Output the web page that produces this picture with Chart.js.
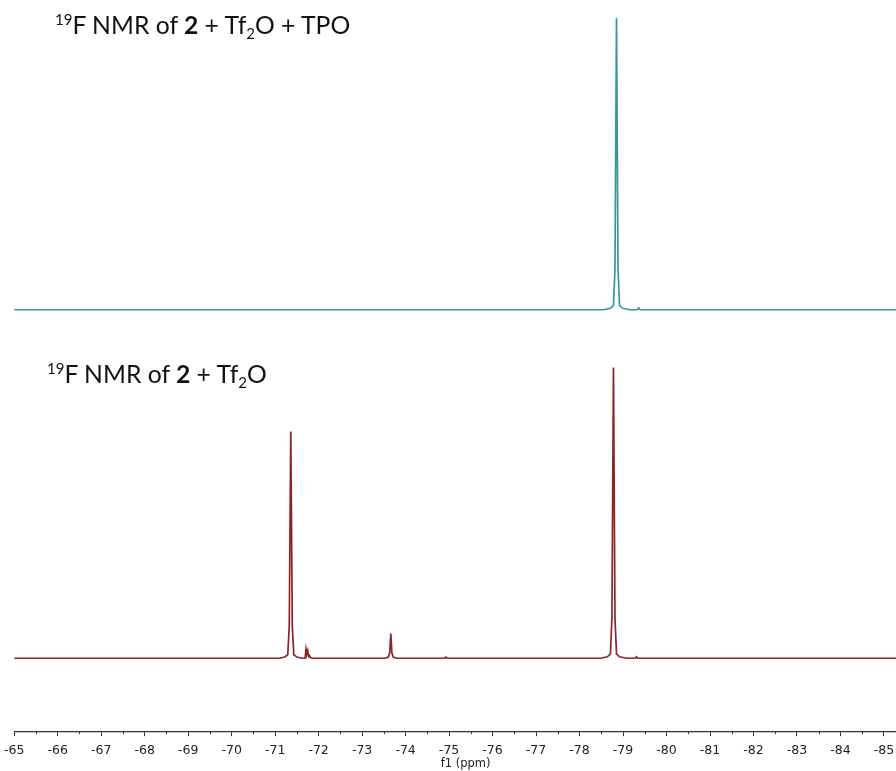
<!DOCTYPE html>
<html>
<head>
<meta charset="utf-8">
<script src="https://cdn.jsdelivr.net/npm/chart.js@4.4.1/dist/chart.umd.min.js"></script>
<style>
  html, body { margin: 0; padding: 0; background: #fff; overflow: hidden; }
  #wrap { position: relative; width: 896px; height: 771px; overflow: hidden; }
  #wrap canvas { position: absolute; left: -3px; top: 0; }
  .lbl { position: absolute; font-family: Lato, "Open Sans", sans-serif; font-size: 24.7px; color: #111; white-space: nowrap; }
  .lbl sup { font-size: 15px; vertical-align: 9px; line-height: 0; }
  .lbl sub { font-size: 15px; vertical-align: -5px; line-height: 0; }
</style>
</head>
<body>
<div id="wrap">
  <canvas id="grafico" width="920" height="771"></canvas>
  <div class="lbl" id="lblTop" style="left:55px; top:10px;"><sup>19</sup>F NMR of <b>2</b> + Tf<sub>2</sub>O + TPO</div>
  <div class="lbl" id="lblBot" style="left:47px; top:359px;"><sup>19</sup>F NMR of <b>2</b> + Tf<sub>2</sub>O</div>
</div>
<script>
// eje de desplazamiento quimico (ppm)
const ppmTicks = [-65, -66, -67, -68, -69, -70, -71, -72, -73, -74, -75, -76, -77, -78, -79, -80, -81, -82, -83, -84, -85];

// espectro de arriba: 2 + Tf2O + TPO
const topPpm = [-65, -78.55, -78.71, -78.78, -78.815, -78.85, -78.885, -78.92, -78.99, -79.15,
  -79.33, -79.36, -79.39, -85.76];
const topInt = [0, 0, 0.5, 1.5, 14, 100, 14, 1.5, 0.5, 0,
  0, 0.6, 0, 0];

// espectro de abajo: 2 + Tf2O
const botPpm = [-65, -71.1, -71.22, -71.29, -71.325, -71.36, -71.395, -71.43, -71.5, -71.62,
  -71.69, -71.71, -71.73, -71.75, -71.77, -71.79, -71.81, -71.86,
  -73.52, -73.6, -73.635, -73.66, -73.685, -73.72, -73.8,
  -74.9, -74.93, -74.96,
  -78.48, -78.64, -78.71, -78.745, -78.78, -78.815, -78.85, -78.92, -79.08,
  -79.28, -79.31, -79.34, -85.76];
const botInt = [0, 0, 0.4, 1.2, 11, 78, 11, 1.2, 0.4, 0,
  0, 3.2, 1.6, 2.6, 0.6, 0.9, 0.2, 0,
  0, 0.3, 1.8, 8.5, 1.8, 0.3, 0,
  0, 0.4, 0,
  0, 0.5, 1.5, 14, 100, 14, 1.5, 0.5, 0,
  0, 0.5, 0, 0];

const colorArriba = '#379797';
const colorAbajo = '#8c2426';

function armarPuntos(xs, ys) {
  return xs.map((x, i) => ({x: x, y: ys[i]}));
}

// marcas menores cada 0.5 ppm
const marcasMenores = {
  id: 'marcasMenores',
  afterDraw(chart) {
    const esc = chart.scales.x;
    const ctx = chart.ctx;
    const y0 = chart.chartArea.bottom;
    ctx.save();
    ctx.strokeStyle = '#333';
    ctx.lineWidth = 1;
    for (let i = 0; i < ppmTicks.length; i++) {
      const v = ppmTicks[i] - 0.5;
      const px = Math.round(esc.getPixelForValue(v)) + 0.5;
      ctx.beginPath();
      ctx.moveTo(px, y0);
      ctx.lineTo(px, y0 + 3);
      ctx.stroke();
    }
    ctx.restore();
  }
};

const ctx = document.getElementById('grafico').getContext('2d');
new Chart(ctx, {
  type: 'scatter',
  data: {
    datasets: [
      {
        label: '2 + Tf2O + TPO',
        data: armarPuntos(topPpm, topInt),
        showLine: true,
        borderColor: colorArriba,
        borderWidth: 1.7,
        pointRadius: 0,
        tension: 0,
        yAxisID: 'yTop'
      },
      {
        label: '2 + Tf2O',
        data: armarPuntos(botPpm, botInt),
        showLine: true,
        borderColor: colorAbajo,
        borderWidth: 1.7,
        pointRadius: 0,
        tension: 0,
        yAxisID: 'yBot'
      }
    ]
  },
  options: {
    responsive: false,
    animation: false,
    layout: {padding: {top: 0, left: 0, right: 0, bottom: 0}},
    plugins: {
      legend: {display: false},
      tooltip: {enabled: false}
    },
    scales: {
      x: {
        type: 'linear',
        reverse: true,
        min: -85.76,
        max: -65,
        afterBuildTicks: (scale) => { scale.ticks = ppmTicks.map(v => ({value: v})); },
        grid: {drawOnChartArea: false, drawTicks: true, tickLength: 5, color: '#333'},
        border: {display: true, color: '#333', width: 1.2},
        ticks: {
          color: '#222',
          padding: 7,
          maxRotation: 0,
          autoSkip: false,
          font: {family: '"DejaVu Sans", sans-serif', size: 12.5},
          callback: (v) => String(v)
        },
        title: {
          display: true,
          text: 'f1 (ppm)',
          color: '#222',
          padding: {top: -8, bottom: 0},
          font: {family: '"DejaVu Sans", sans-serif', size: 11.5}
        }
      },
      yTop: {
        display: false,
        min: -144.5,
        max: 106.2
      },
      yBot: {
        display: false,
        min: -25.1,
        max: 226.4
      }
    }
  },
  plugins: [marcasMenores]
});
</script>
</body>
</html>
